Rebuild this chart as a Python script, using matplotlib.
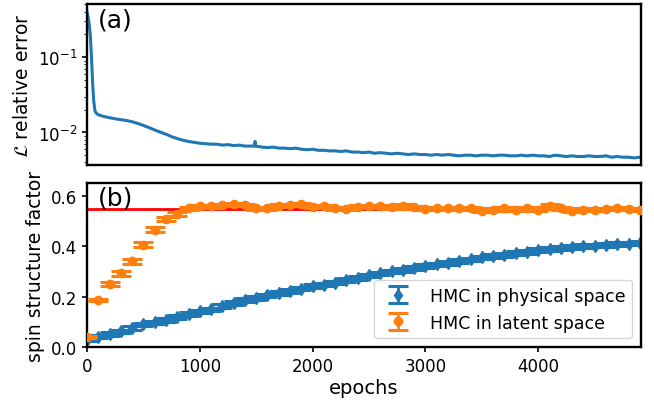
import numpy as np
import matplotlib
matplotlib.use("Agg")
import matplotlib.pyplot as plt

# ---- panel (a): relative error of L vs epochs ----
err_epochs = [0, 10, 20, 30, 40, 50, 60, 70, 80, 100, 150, 200, 250, 300, 350, 400,
              450, 500, 550, 600, 650, 700, 750, 800, 850, 900, 950,
              1000, 1050, 1100, 1150, 1200, 1250, 1300, 1350, 1400, 1450, 1485, 1490, 1495,
              1550, 1600, 1650, 1700, 1750, 1800, 1850, 1900, 1950, 2000, 2050, 2100,
              2150, 2200, 2250, 2300, 2350, 2400, 2450, 2500, 2550, 2600, 2650, 2700,
              2750, 2800, 2850, 2900, 2950, 3000, 3050, 3100, 3150, 3200, 3250, 3300,
              3350, 3400, 3450, 3500, 3550, 3600, 3650, 3700, 3750, 3800, 3850, 3900,
              3950, 4000, 4050, 4100, 4150, 4200, 4250, 4300, 4350, 4400, 4450, 4500,
              4550, 4600, 4650, 4700, 4750, 4800, 4850, 4900]
err_values = [0.40, 0.34, 0.27, 0.19, 0.10, 0.045, 0.026, 0.0195, 0.0182, 0.0172, 0.0163,
              0.0157, 0.0152, 0.0148, 0.0144, 0.0139, 0.0132, 0.0124, 0.0116, 0.0108,
              0.0101, 0.0095, 0.0088, 0.0083, 0.0079, 0.0076, 0.0074,
              0.0072, 0.0071, 0.0070, 0.0070, 0.0068, 0.0069, 0.0067, 0.0068, 0.0066,
              0.0066, 0.0066, 0.0076, 0.0066,
              0.0064, 0.0063, 0.0064, 0.0062, 0.0062, 0.0061, 0.0062, 0.0060, 0.0059,
              0.0060, 0.0058, 0.0058, 0.0057, 0.0057, 0.0056, 0.0057, 0.0055, 0.0055,
              0.0054, 0.0055, 0.0053, 0.0054, 0.0053, 0.0052, 0.0053, 0.0052, 0.0051,
              0.0052, 0.0051, 0.0051, 0.0050, 0.0051, 0.0050, 0.0051, 0.0050, 0.0049,
              0.0050, 0.0050, 0.0049, 0.0050, 0.0050, 0.0049, 0.0050, 0.0050, 0.0049,
              0.0049, 0.0050, 0.0049, 0.0050, 0.0049, 0.0049, 0.0048, 0.0050, 0.0049,
              0.0048, 0.0049, 0.0048, 0.0048, 0.0049, 0.0048, 0.0048, 0.0049, 0.0047,
              0.0048, 0.0047, 0.0047, 0.0046, 0.0047]

# ---- panel (b): spin structure factor vs epochs ----
sf_epochs = [0, 100, 200, 300, 400, 500, 600, 700, 800, 900,
             1000, 1100, 1200, 1300, 1400, 1500, 1600, 1700, 1800, 1900,
             2000, 2100, 2200, 2300, 2400, 2500, 2600, 2700, 2800, 2900,
             3000, 3100, 3200, 3300, 3400, 3500, 3600, 3700, 3800, 3900,
             4000, 4100, 4200, 4300, 4400, 4500, 4600, 4700, 4800, 4900]
phys_values = [0.030, 0.042, 0.052, 0.062, 0.075, 0.090, 0.098, 0.108, 0.120, 0.132,
               0.142, 0.150, 0.162, 0.175, 0.186, 0.195, 0.205, 0.214, 0.223, 0.232,
               0.242, 0.248, 0.256, 0.265, 0.275, 0.284, 0.292, 0.300, 0.306, 0.314,
               0.322, 0.328, 0.334, 0.341, 0.348, 0.356, 0.362, 0.366, 0.372, 0.378,
               0.384, 0.388, 0.393, 0.397, 0.400, 0.402, 0.405, 0.408, 0.410, 0.413]
phys_err = [0.007, 0.007, 0.007, 0.007, 0.007, 0.007, 0.007, 0.007, 0.007, 0.007,
            0.007, 0.007, 0.007, 0.007, 0.007, 0.007, 0.007, 0.007, 0.007, 0.007,
            0.007, 0.007, 0.007, 0.007, 0.007, 0.007, 0.007, 0.007, 0.007, 0.007,
            0.007, 0.007, 0.007, 0.007, 0.007, 0.007, 0.007, 0.007, 0.007, 0.007,
            0.007, 0.007, 0.007, 0.007, 0.007, 0.007, 0.007, 0.007, 0.007, 0.007]
latent_values = [0.042, 0.186, 0.250, 0.292, 0.340, 0.406, 0.466, 0.508, 0.528, 0.550,
                 0.559, 0.558, 0.563, 0.567, 0.563, 0.550, 0.550, 0.561, 0.563, 0.566,
                 0.557, 0.558, 0.550, 0.548, 0.557, 0.558, 0.560, 0.554, 0.561, 0.554,
                 0.548, 0.552, 0.550, 0.550, 0.552, 0.541, 0.545, 0.550, 0.545, 0.550,
                 0.545, 0.561, 0.550, 0.541, 0.545, 0.545, 0.548, 0.550, 0.548, 0.545]
latent_err = [0.004, 0.004, 0.009, 0.009, 0.009, 0.009, 0.009, 0.008, 0.008, 0.007,
              0.005, 0.005, 0.005, 0.005, 0.005, 0.005, 0.005, 0.005, 0.005, 0.005,
              0.005, 0.005, 0.005, 0.005, 0.005, 0.005, 0.005, 0.005, 0.005, 0.005,
              0.005, 0.005, 0.005, 0.005, 0.005, 0.005, 0.005, 0.005, 0.005, 0.005,
              0.005, 0.005, 0.005, 0.005, 0.005, 0.005, 0.005, 0.005, 0.005, 0.005]
exact_value = 0.547

labels = ["HMC in physical space", "HMC in latent space"]

fig = plt.figure(figsize=(6.54, 4.02), dpi=100)
ax1 = fig.add_axes([0.133, 0.587, 0.847, 0.401])
ax2 = fig.add_axes([0.133, 0.134, 0.847, 0.408], sharex=ax1)

for ax in (ax1, ax2):
    for s in ax.spines.values():
        s.set_linewidth(1.7)
    ax.tick_params(labelsize=12, width=1.2)

ax1.plot(err_epochs, err_values, color="#1f77b4", lw=2.2)
ax1.set_yscale("log")
ax1.set_ylim(0.0037, 0.51)
ax1.set_ylabel(r"$\mathcal{L}$ relative error", fontsize=13.5)
ax1.tick_params(axis="x", bottom=False, labelbottom=False)
ax1.text(0.02, 0.975, "(a)", transform=ax1.transAxes, fontsize=18, va="top", ha="left")

ax2.axhline(exact_value, color="red", lw=2, zorder=1)
ax2.errorbar(sf_epochs, phys_values, yerr=phys_err, fmt="d", color="#1f77b4",
             ms=6, capsize=7, elinewidth=2, capthick=2.2, label=labels[0], zorder=2)
ax2.errorbar(sf_epochs, latent_values, yerr=latent_err, fmt="o", color="#ff7f0e",
             ms=6, capsize=7, elinewidth=2, capthick=2.2, label=labels[1], zorder=3)
ax2.set_ylim(0, 0.65)
ax2.set_xlim(0, 4910)
ax2.set_yticks([0.0, 0.2, 0.4, 0.6])
ax2.set_ylabel("spin structure factor", fontsize=13.5)
ax2.set_xlabel("epochs", fontsize=14, labelpad=2)
ax2.text(0.02, 0.985, "(b)", transform=ax2.transAxes, fontsize=18, va="top", ha="left")
ax2.legend(loc="lower right", fontsize=12.5)

fig.savefig("out.png", dpi=100)
